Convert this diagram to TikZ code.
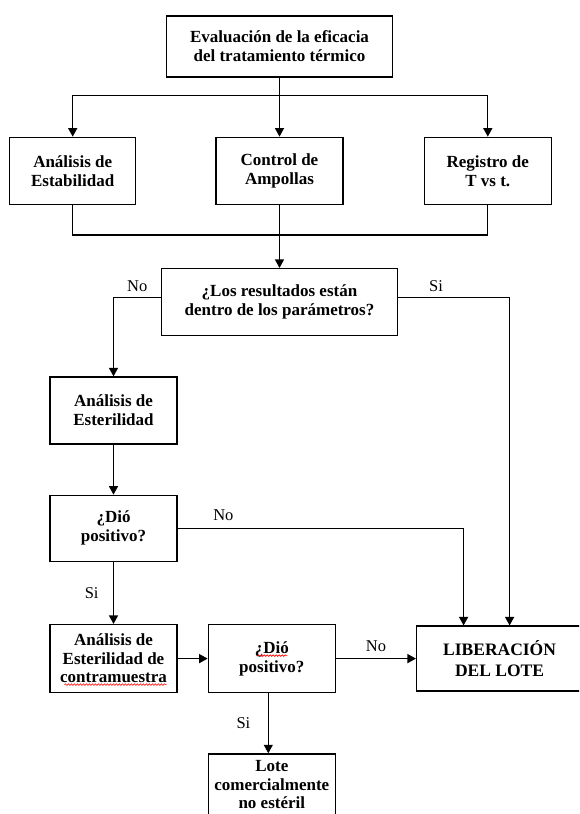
\documentclass[tikz,border=0pt]{standalone}
\usepackage{fontspec}
\setmainfont{Liberation Serif}
\usetikzlibrary{%
  arrows.meta,%
  positioning,% wg. " of "
  decorations.pathmorphing% Schlangenlinie unter Woertern
}

\begin{document}
\begin{tikzpicture}[->,>={Triangle[length=8.5pt,width=9pt]},line width=1.3pt,x=1pt,y=1pt,
  box/.style={draw,-,align=center,minimum width=127pt,minimum height=67pt,inner sep=2pt,
    font=\fontsize{17}{19}\selectfont\bfseries},
  lbl/.style={font=\fontsize{16.5}{19}\selectfont},
  wave/.style={-,red,line width=0.6pt,decorate,decoration={snake,amplitude=0.8pt,segment length=3pt}}]
    \useasboundingbox (0,0) rectangle (579,-814);
    \clip (0,0) rectangle (579,-814);

    %top
    \node[box,minimum width=226pt,minimum height=61pt] (eval) at (279.5,-46.5) {Evaluación de la eficacia\\del tratamiento térmico};

    %row of three
    \node[box] (ampollas) [below=59pt of eval] {Control de\\Ampollas};
    \node[box,minimum width=126pt] (estab) [left=79pt of ampollas] {Análisis de\\Estabilidad};
    \node[box] (registro) [right=80pt of ampollas] {Registro de\\T vs t.};

    %question
    \node[box,minimum width=236pt] (decision) [below=63pt of ampollas] {¿Los resultados están\\dentro de los parámetros?};

    %left column
    \node[box] (esteril) at (113.5,-410.5) {Análisis de\\Esterilidad};
    \node[box,minimum height=66pt] (dio1) [below=50pt of esteril] {¿Dió\\positivo?};
    \node[box,minimum height=68pt,font=\fontsize{17}{18.5}\selectfont\bfseries] (contra) [below=62pt of dio1] {Análisis de\\Esterilidad de\\contramuestra};

    %bottom row
    \node[box,minimum height=68pt] (dio2) [right=30pt of contra] {¿Dió\\positivo?};
    \node[box,minimum width=166pt,minimum height=65pt,font=\fontsize{17.5}{20.5}\selectfont\bfseries] (lib) [right=80pt of dio2] {LIBERACIÓN\\DEL LOTE};
    \node[box,minimum height=62pt,font=\fontsize{17}{18.5}\selectfont\bfseries] (lote) [below=60pt of dio2] {Lote\\comercialmente\\no estéril};

    %fork
    \draw[-] (eval.south) -- ++(0,-18) coordinate (fork);
    \draw (fork) -| (estab);
    \draw (fork) -- (ampollas);
    \draw (fork) -| (registro);

    %join
    \coordinate (join) at ([yshift=-30pt]ampollas.south);
    \draw[-] (estab) |- (join) -| (registro);
    \draw (ampollas) -- (decision);

    %question -> no / si
    \draw ([yshift=4.5pt]decision.west) -| node[lbl,pos=0.25,above=2pt] {No} (esteril);
    \draw ([yshift=4.5pt]decision.east) -| node[lbl,pos=0.17,above=2pt] {Si} ([xshift=10pt]lib.north);

    %left column
    \draw (esteril) -- (dio1);
    \draw (dio1.east) -| node[lbl,pos=0.08,above=4pt] {No} ([xshift=-36pt]lib.north);
    \draw (dio1) -- node[lbl,left=11pt] {Si} (contra);

    %bottom row
    \draw (contra) -- (dio2);
    \draw (dio2) -- node[lbl,above=3pt] {No} (lib);
    \draw ([xshift=-3.5pt]dio2.south) -- node[lbl,left=14pt] {Si} ([xshift=-3.5pt]lote.north);

    %spell check marks
    \draw[wave] ([xshift=-49pt,yshift=-26pt]contra.center) -- ([xshift=53pt,yshift=-26pt]contra.center);
    \draw[wave] ([xshift=-14.5pt,yshift=3pt]dio2.center) -- ([xshift=15.5pt,yshift=3pt]dio2.center);
\end{tikzpicture}
\end{document}
